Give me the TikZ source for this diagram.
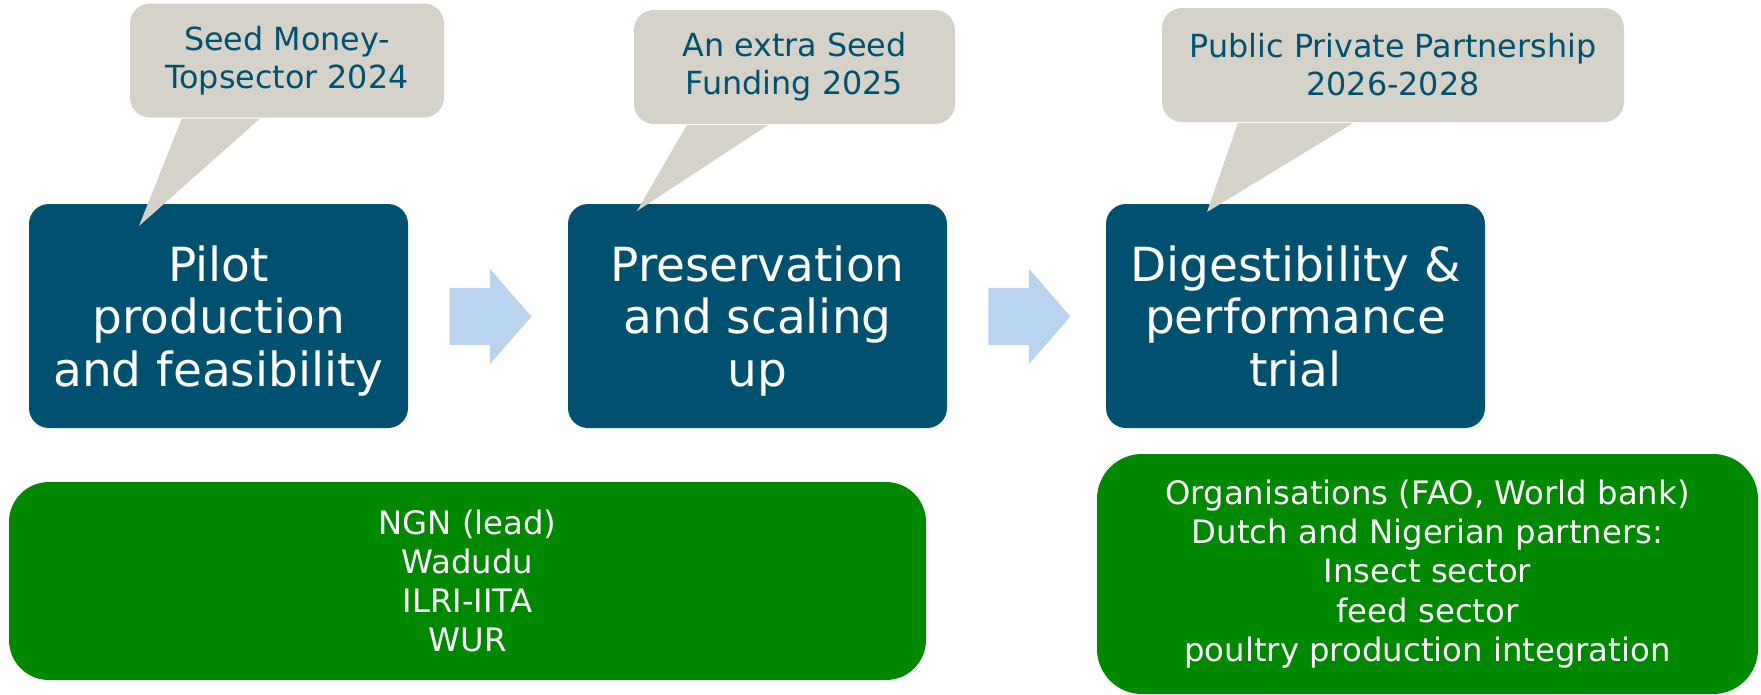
\documentclass[tikz,border=0pt]{standalone}
\usepackage{fontspec}
\setmainfont{DejaVu Sans}
\usetikzlibrary{shapes.arrows,calc}
\definecolor{stageblue}{HTML}{00516F}
\definecolor{notegrey}{HTML}{D5D2CA}
\definecolor{flowblue}{HTML}{BAD3EE}
\definecolor{partnergreen}{HTML}{008800}

\begin{document}
\begin{tikzpicture}[x=1pt,y=-1pt,
  stagebox/.style={fill=stageblue, text=white, rounded corners=20pt,
    minimum width=379pt, minimum height=224pt, align=center, inner sep=0pt,
    text depth=0pt, font=\fontsize{47}{52.5}\selectfont},
  notebox/.style={fill=notegrey, text=stageblue, rounded corners=20pt,
    minimum height=114pt, align=center, inner sep=0pt,
    font=\fontsize{31.8}{38}\selectfont},
  pointer/.style={fill=notegrey},
  flowarrow/.style={fill=flowblue, shape=single arrow, inner xsep=0pt,
    inner ysep=28.5pt, minimum height=82pt, single arrow head extend=19pt,
    single arrow tip angle=98, anchor=tail},
  partnerbox/.style={fill=partnergreen, text=white, align=center, inner sep=0pt,
    font=\fontsize{32.3}{39.2}\selectfont}
]
\useasboundingbox (0,0) rectangle (1761,694);

% project stages
\node[stagebox] (s1) at (218.5,316) {Pilot\\production\\and feasibility};
\node[stagebox] (s2) at (757.5,316) {Preservation\\and scaling\\up};
\node[stagebox] (s3) at (1295.5,316) {Digestibility \&\\performance\\trial};

% block arrows between stages
\node[flowarrow] (a1) at ($(s1.east)+(41,0.5)$) {};
\node[flowarrow] (a2) at ($(s2.east)+(41,0.5)$) {};

% partners
\node[partnerbox, rounded corners=40pt, minimum width=917pt, minimum height=198pt]
  (p1) at (467.5,581) {NGN (lead)\\Wadudu\\ILRI-IITA\\WUR};
\node[partnerbox, rounded corners=45pt, minimum width=661pt, minimum height=240pt]
  (p2) at (1427.5,574) {Organisations (FAO, World bank)\\Dutch and Nigerian partners:\\Insect sector\\feed sector\\poultry production integration};

% funding callouts
\node[notebox, minimum width=314pt] (n1) at (287,60.5) {Seed Money-\\Topsector 2024};
\node[notebox, minimum width=321pt] (n2) at (794.5,67) {An extra Seed\\Funding 2025};
\node[notebox, minimum width=462pt] (n3) at (1393,65) {Public Private Partnership\\2026-2028};

\coordinate (t1) at (139,226);
\coordinate (t2) at (637,211);
\coordinate (t3) at (1207,212);
\fill[pointer] ($(n1.south west)+(52,1)$) -- ($(n1.south west)+(130,1)$) -- (t1) -- cycle;
\fill[pointer] ($(n2.south west)+(53,1)$) -- ($(n2.south west)+(134,1)$) -- (t2) -- cycle;
\fill[pointer] ($(n3.south west)+(76,1)$) -- ($(n3.south west)+(191,1)$) -- (t3) -- cycle;
\end{tikzpicture}
\end{document}
